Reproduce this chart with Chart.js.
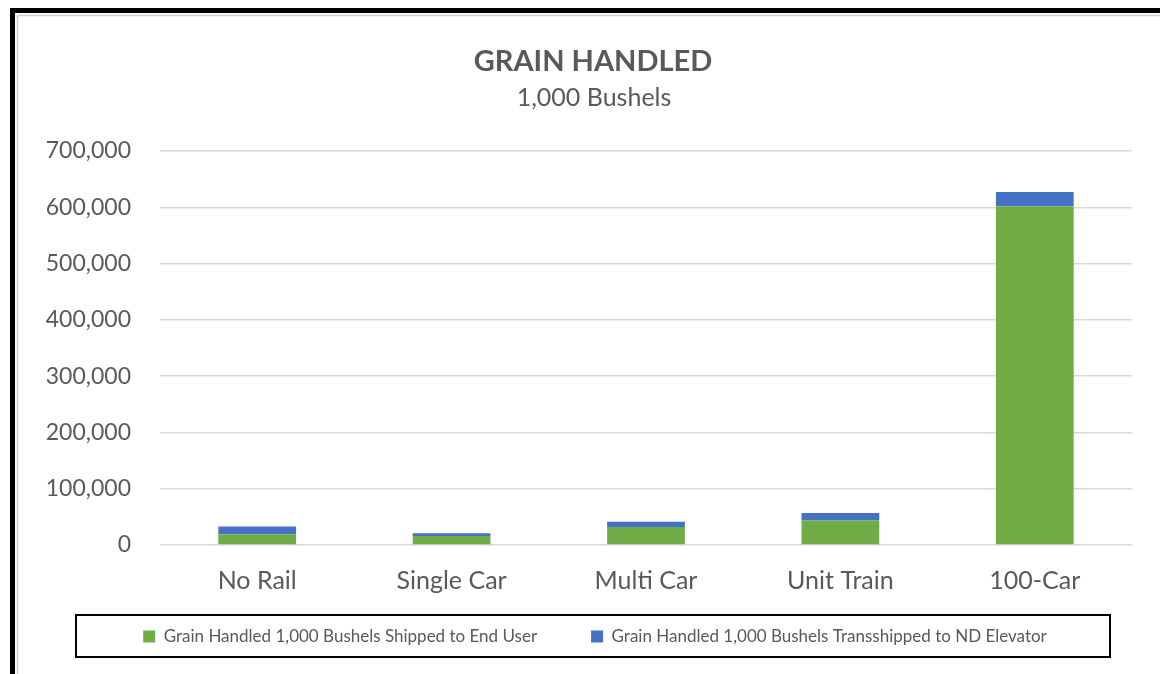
<!DOCTYPE html>
<html>
<head>
<meta charset="utf-8">
<script src="https://cdn.jsdelivr.net/npm/chart.js@4/dist/chart.umd.min.js"></script>
<style>
  html, body { margin: 0; padding: 0; background: #fff; }
  #wrap { width: 1160px; height: 674px; position: relative; }
</style>
</head>
<body>
<div id="wrap"><canvas id="c" width="1160" height="674"></canvas></div>
<script>
// data (1,000 bushels)
const categories = ["No Rail", "Single Car", "Multi Car", "Unit Train", "100-Car"];
const shippedToEndUser = [19000, 16000, 32000, 44000, 602000];
const transshippedToND = [14000, 5000, 9500, 13000, 25000];
const yTicks = [0, 100000, 200000, 300000, 400000, 500000, 600000, 700000];

const titleText = "GRAIN HANDLED";
const subtitleText = "1,000 Bushels";

const textColor = "#595959";
const fontFamily = "Lato, 'Open Sans', sans-serif";
const plotBottom = 545;
const bottomPad = 19;

// frame, title block and legend box (title is centred on the whole frame, not the plot)
const framePlugin = {
    id: "frame",
    afterLayout(chart) {
        // legend sits centred under the whole frame, shift it right a bit
        chart.legend.left += 58;
        // let the category labels run into the legend band without being clipped
        chart.scales.x.bottom += 24;
    },
    beforeDraw(chart) {
        const ctx = chart.ctx;
        ctx.save();
        ctx.fillStyle = "#fff";
        ctx.fillRect(0, 0, chart.width, chart.height);
        ctx.fillStyle = "#000";
        ctx.fillRect(10, 8, 5, chart.height - 8);
        ctx.fillRect(10, 8, chart.width - 10, 5);
        ctx.strokeStyle = "#d0d0d0";
        ctx.lineWidth = 1.5;
        ctx.beginPath();
        ctx.moveTo(17.5, chart.height);
        ctx.lineTo(17.5, 15.5);
        ctx.lineTo(chart.width, 15.5);
        ctx.stroke();

        ctx.fillStyle = textColor;
        ctx.textAlign = "center";
        ctx.textBaseline = "middle";
        ctx.font = "bold 29px " + fontFamily;
        ctx.fillText(titleText, 593, 62);
        ctx.font = "25px " + fontFamily;
        ctx.fillText(subtitleText, 594, 98);
        ctx.restore();
    },
    afterDraw(chart) {
        const ctx = chart.ctx;
        ctx.save();
        ctx.strokeStyle = "#000";
        ctx.lineWidth = 2;
        ctx.strokeRect(76, 615, 1034, 42);
        ctx.restore();
    }
};

new Chart(document.getElementById("c"), {
    type: "bar",
    data: {
        labels: categories,
        datasets: [
            {
                label: "Grain Handled 1,000 Bushels Shipped to End User",
                data: shippedToEndUser,
                backgroundColor: "#70AD47"
            },
            {
                label: "Grain Handled 1,000 Bushels Transshipped to ND Elevator",
                data: transshippedToND,
                backgroundColor: "#4472C4"
            }
        ]
    },
    options: {
        responsive: false,
        animation: false,
        layout: { padding: { top: 151, left: 0, right: 28, bottom: bottomPad } },
        datasets: { bar: { categoryPercentage: 1, barPercentage: 0.4 } },
        plugins: {
            title: { display: false },
            legend: {
                position: "bottom",
                labels: {
                    color: textColor,
                    font: { family: fontFamily, size: 17 },
                    boxWidth: 12,
                    boxHeight: 12,
                    padding: 54,
                    useBorderRadius: false
                }
            },
            tooltip: { enabled: false }
        },
        scales: {
            x: {
                stacked: true,
                grid: { display: false },
                border: { display: false },
                ticks: {
                    color: textColor,
                    font: { family: fontFamily, size: 25 },
                    padding: 13
                },
                afterFit(scale) {
                    const lg = scale.chart.legend;
                    scale.height = scale.chart.height - bottomPad - lg.height - plotBottom;
                }
            },
            y: {
                stacked: true,
                min: 0,
                max: 700000,
                afterBuildTicks(scale) { scale.ticks = yTicks.map(v => ({ value: v })); },
                grid: { color: "#d9d9d9", lineWidth: 1.5, drawTicks: false },
                border: { display: false },
                ticks: {
                    color: textColor,
                    font: { family: fontFamily, size: 23 },
                    padding: 29,
                    callback: v => v.toLocaleString("en-US")
                },
                afterFit(scale) { scale.width = 160; }
            }
        }
    },
    plugins: [framePlugin]
});
</script>
</body>
</html>
